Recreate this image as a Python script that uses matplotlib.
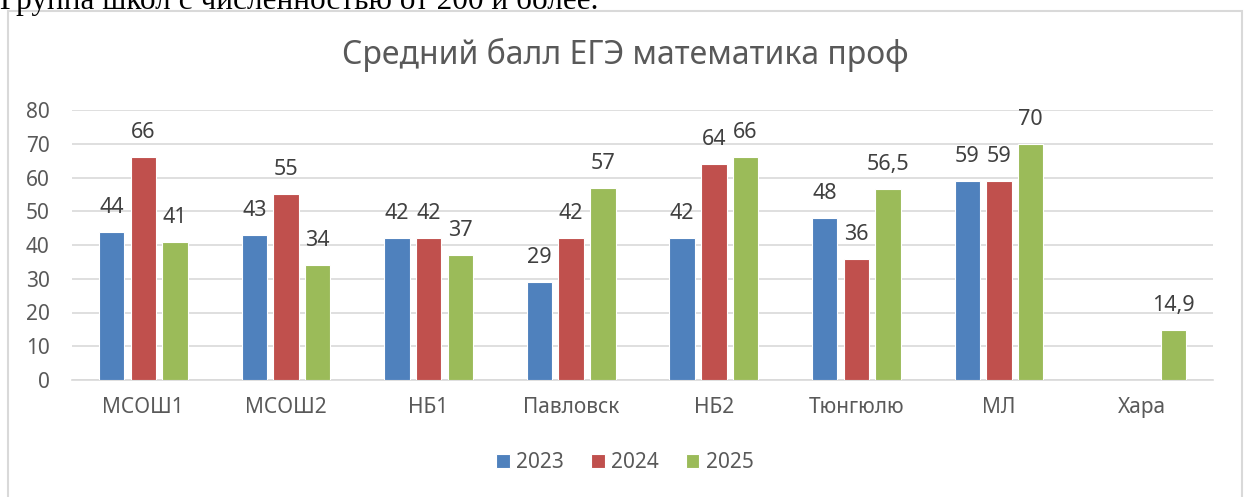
import matplotlib.pyplot as plt
from matplotlib.patches import Rectangle
import numpy as np

plt.rcParams["font.family"] = ["Noto Sans", "DejaVu Sans"]

schools = ["МСОШ1", "МСОШ2", "НБ1", "Павловск", "НБ2", "Тюнгюлю", "МЛ", "Хара"]
years = ["2023", "2024", "2025"]
score_2023 = [44, 43, 42, 29, 42, 48, 59, None]
score_2024 = [66, 55, 42, 42, 64, 36, 59, None]
score_2025 = [41, 34, 37, 57, 66, 56.5, 70, 14.9]
colors = ["#4F81BD", "#C0504D", "#9BBB59"]

GRAY = "#595959"

fig = plt.figure(figsize=(12.47, 4.97), dpi=100)

# строка документа над диаграммой (обрезана сверху)
fig.text(0.0, 1 - 9 / 497, "Группа школ с численностью от 200 и более.",
         family=["Liberation Serif", "DejaVu Serif"], fontsize=22.5,
         va="baseline", ha="left", color="black")

# рамка области диаграммы
fig.patches.append(Rectangle((8 / 1247, -0.05), (1242 - 8) / 1247, 1.05 - 11 / 497,
                             transform=fig.transFigure, fill=False,
                             edgecolor="#d9d9d9", linewidth=1.5))

ax = fig.add_axes([72 / 1247, 1 - 380 / 497, (1213 - 72) / 1247, 270 / 497])

x = np.arange(len(schools))
width = 0.178
step = 0.222
series = [score_2023, score_2024, score_2025]
for i, (vals, year, color) in enumerate(zip(series, years, colors)):
    xs = [xi + (i - 1) * step for xi, v in zip(x, vals) if v is not None]
    vs = [v for v in vals if v is not None]
    ax.bar(xs, vs, width=width, color=color, edgecolor="white",
           linewidth=0.8, label=year, zorder=3)
    for xi, v in zip(xs, vs):
        txt = f"{v:g}".replace(".", ",")
        ax.text(xi, v + 5.6, txt, ha="center", va="baseline",
                fontsize=15.5, color="#404040")

ax.set_xlim(-0.5, len(schools) - 0.5)
ax.set_ylim(0, 80)
ax.set_yticks(range(0, 81, 10))
ax.set_xticks(x)
ax.set_xticklabels(schools)
ax.grid(axis="y", color="#d9d9d9", linewidth=1.2, zorder=0)
ax.tick_params(axis="both", length=0, labelsize=15, colors=GRAY)
ax.tick_params(axis="x", pad=12)
ax.tick_params(axis="y", pad=16)
for side in ["top", "right", "left"]:
    ax.spines[side].set_visible(False)
ax.spines["bottom"].set_color("#d9d9d9")
ax.spines["bottom"].set_linewidth(1.2)

# заголовок по центру рамки, примерно на 55 px от верха
fig.text(625 / 1247, 1 - 55 / 497, "Средний балл ЕГЭ математика проф",
         fontsize=23, color=GRAY, ha="center", va="center")

fig.legend(loc="center", bbox_to_anchor=(625 / 1247, 1 - 463 / 497),
           ncol=3, frameon=False, fontsize=15, handlelength=0.65,
           handleheight=0.65, handletextpad=0.3, columnspacing=1.3,
           labelcolor=GRAY)

fig.savefig("out.png", dpi=100)
